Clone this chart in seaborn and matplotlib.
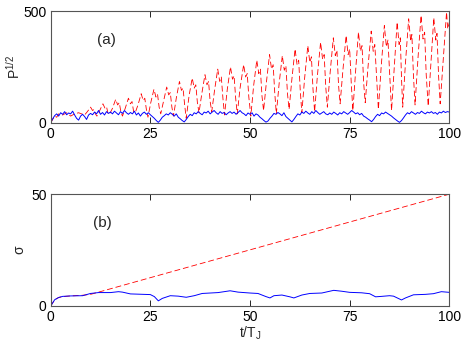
import numpy as np
import pandas as pd
import seaborn as sns
import matplotlib
matplotlib.use("Agg")
import matplotlib.pyplot as plt

# panel (a): red dashed P^1/2 (trough, rise, peak, wiggles ...)
red_a_t = [0, 0.5, 1, 1.5, 2, 3, 4, 5, 6, 7, 8,
           8.5, 9.2, 10.0, 10.5, 10.9, 11.2,
           11.6, 12.3, 13.1, 13.6, 14.0, 14.4,
           14.8, 15.5, 16.3, 16.8, 17.2, 17.6,
           18.0, 18.7, 19.5, 20.0, 20.4, 20.8,
           21.2, 21.9, 22.7, 23.2, 23.6, 24.0,
           24.4, 25.1, 25.9, 26.4, 26.8, 27.2,
           27.6, 28.3, 29.1, 29.6, 30.0, 30.4,
           30.8, 31.5, 32.3, 32.8, 33.2, 33.6,
           34.0, 34.7, 35.5, 36.0, 36.4, 36.8,
           37.2, 37.9, 38.7, 39.2, 39.6, 40.0,
           40.4, 41.1, 41.9, 42.4, 42.8, 43.2,
           43.6, 44.3, 45.1, 45.6, 46.0, 46.4,
           46.8, 47.5, 48.4, 48.9, 49.3, 49.7,
           50.2, 50.9, 51.7, 52.2, 52.6, 53.0,
           53.4, 54.1, 54.9, 55.4, 55.8, 56.2,
           56.6, 57.3, 58.1, 58.6, 59.0, 59.4,
           59.8, 60.5, 61.3, 61.8, 62.2, 62.6,
           63.0, 63.7, 64.5, 65.0, 65.4, 65.8,
           66.2, 66.9, 67.7, 68.2, 68.6, 69.0,
           69.4, 70.1, 70.9, 71.4, 71.8, 72.2,
           72.6, 73.3, 74.1, 74.6, 75.0, 75.4,
           75.8, 76.5, 77.2, 77.7, 78.1, 78.5,
           78.9, 79.6, 80.4, 80.9, 81.3, 81.8,
           82.2, 82.9, 83.7, 84.2, 84.6, 85.1,
           85.5, 86.2, 86.9, 87.4, 87.7, 88.0,
           88.3, 89.0, 89.8, 90.3, 90.6, 91.0,
           91.4, 92.1, 92.9, 93.4, 93.8, 94.2,
           94.7, 95.4, 96.1, 96.6, 96.9, 97.3,
           97.7, 98.5, 99.3, 99.6, 100.0]
red_a_p = [0, 15, 30, 25, 40, 35, 45, 30, 40, 45, 38,
           35, 50, 70, 55, 60, 40,
           30, 55, 85, 66, 72, 40,
           40, 65, 105, 80, 90, 50,
           30, 65, 110, 85, 95, 50,
           45, 80, 130, 100, 110, 60,
           25, 90, 150, 115, 128, 70,
           40, 95, 160, 125, 135, 70,
           30, 110, 185, 145, 155, 80,
           20, 120, 200, 155, 170, 90,
           45, 130, 215, 170, 185, 95,
           50, 145, 240, 185, 205, 110,
           35, 150, 250, 195, 210, 110,
           40, 155, 260, 205, 220, 115,
           30, 165, 280, 220, 240, 120,
           55, 180, 305, 240, 260, 135,
           40, 175, 300, 235, 255, 130,
           60, 195, 330, 260, 280, 145,
           45, 200, 345, 270, 295, 150,
           50, 210, 360, 285, 305, 160,
           70, 225, 380, 300, 325, 170,
           85, 235, 390, 305, 330, 175,
           55, 235, 405, 320, 345, 180,
           90, 250, 410, 320, 350, 185,
           60, 250, 435, 340, 370, 195,
           55, 255, 450, 350, 380, 200,
           70, 270, 465, 365, 395, 210,
           80, 280, 480, 375, 405, 215,
           75, 275, 470, 370, 400, 210,
           85, 290, 495, 420, 450]

# panel (a): blue solid, sampled every 0.5 t/T_J
blue_a_p = [0, 18, 32, 40, 30, 45, 38, 50, 36, 44,
            40, 52, 35, 20, 12, 30, 38, 28, 15, 35,
            42, 36, 48, 40, 55, 38, 46, 35, 50, 42,
            48, 40, 52, 44, 36, 50, 42, 55, 45, 38,
            46, 40, 52, 35, 44, 30, 42, 48, 38, 45,
            36, 28, 20, 10, 2, 12, 25, 32, 40, 35,
            45, 38, 30, 40, 25, 18, 10, 4, 15, 28,
            38, 32, 45, 40, 50, 42, 36, 48, 44, 52,
            40, 48, 55, 45, 38, 50, 42, 46, 36, 44,
            50, 42, 48, 38, 46, 55, 45, 40, 32, 44,
            38, 45, 30, 40, 35, 25, 18, 10, 3, 8,
            20, 30, 42, 38, 46, 40, 32, 45, 28, 20,
            12, 4, 15, 28, 40, 35, 48, 42, 52, 44,
            38, 50, 42, 55, 46, 38, 44, 50, 40, 36,
            44, 38, 48, 42, 35, 45, 40, 50, 44, 38,
            46, 55, 48, 40, 45, 36, 42, 30, 25, 18,
            12, 5, 15, 28, 38, 32, 44, 40, 48, 42,
            36, 30, 22, 15, 8, 2, 10, 22, 35, 45,
            40, 50, 44, 38, 46, 42, 52, 45, 40, 48,
            44, 50, 42, 46, 38, 48, 44, 52, 46, 50,
            48]
blue_a_t = np.arange(len(blue_a_p)) * 0.5

# panel (b): sigma
red_b_t = [0, 1, 2, 3, 5, 8, 10, 100]
red_b_s = [0, 2.8, 3.8, 4.2, 4.5, 4.8, 5.2, 50]

blue_b_t = [0, 1, 2, 3, 5, 8, 10, 12, 15, 17, 18, 20, 25, 26, 27, 28, 30, 32, 34,
            36, 38, 42, 45, 47, 50, 52, 54, 55, 56, 58, 60, 61, 63, 65, 68, 71, 73,
            75, 78, 80, 81.5, 83, 85, 86, 88, 89, 91, 94, 96, 98, 100]
blue_b_s = [0, 2.8, 3.8, 4.3, 4.5, 4.6, 5.6, 6.0, 6.0, 6.4, 6.2, 5.4, 5.1, 4.2, 2.3,
            3.4, 4.6, 4.4, 3.9, 4.6, 5.6, 6.0, 6.8, 6.2, 5.8, 5.6, 4.2, 3.6, 4.6,
            4.9, 4.1, 3.6, 4.9, 5.6, 5.8, 7.0, 6.6, 6.1, 5.9, 5.5, 4.1, 4.3, 4.6,
            4.4, 2.7, 3.6, 5.0, 5.2, 5.5, 6.4, 6.1]

sns.set_style("ticks")
plt.rcParams['font.family'] = ['Liberation Sans', 'DejaVu Sans']
plt.rcParams['mathtext.fontset'] = 'custom'
plt.rcParams['mathtext.rm'] = 'Liberation Sans'
plt.rcParams['mathtext.it'] = 'Liberation Sans'

fig = plt.figure(figsize=(4.63, 3.44), dpi=100)
ax1 = fig.add_axes([0.1095, 0.643, 0.861, 0.325])
ax2 = fig.add_axes([0.1095, 0.1105, 0.861, 0.325])

dash = (0, (7, 3.5))
sns.lineplot(x=red_a_t, y=red_a_p, ax=ax1, color='#ff0000', lw=0.6,
             linestyle=dash, estimator=None, sort=False)
sns.lineplot(x=blue_a_t, y=blue_a_p, ax=ax1, color='#0000ff', lw=0.7,
             estimator=None, sort=False)
sns.lineplot(x=red_b_t, y=red_b_s, ax=ax2, color='#ff0000', lw=0.6,
             linestyle=dash, estimator=None, sort=False)
sns.lineplot(x=blue_b_t, y=blue_b_s, ax=ax2, color='#0000ff', lw=0.7,
             estimator=None, sort=False)

for ax, ymax in [(ax1, 500), (ax2, 50)]:
    ax.set_xlim(0, 100)
    ax.set_ylim(0, ymax)
    ax.set_xticks([0, 25, 50, 75, 100])
    ax.set_yticks([0, ymax])
    ax.tick_params(direction='in', top=True, right=True, length=4, width=0.6,
                   labelsize=10, colors='black', pad=3)
    for s in ax.spines.values():
        s.set_visible(True)
        s.set_linewidth(0.8)
        s.set_color('#555555')

ax1.text(14, 370, '(a)', fontsize=11, ha='center', va='center')
ax2.text(13, 37, '(b)', fontsize=11, ha='center', va='center')

ax1.set_ylabel('P$^{1/2}$', fontsize=10)
ax2.set_ylabel('σ', fontsize=10)
ax1.yaxis.set_label_coords(-0.07, 0.5)
ax2.yaxis.set_label_coords(-0.062, 0.5)
ax1.set_xlabel('')
ax2.set_xlabel('t/T$_\\mathrm{J}$', fontsize=10, labelpad=0)

fig.savefig('out.png', dpi=100)
